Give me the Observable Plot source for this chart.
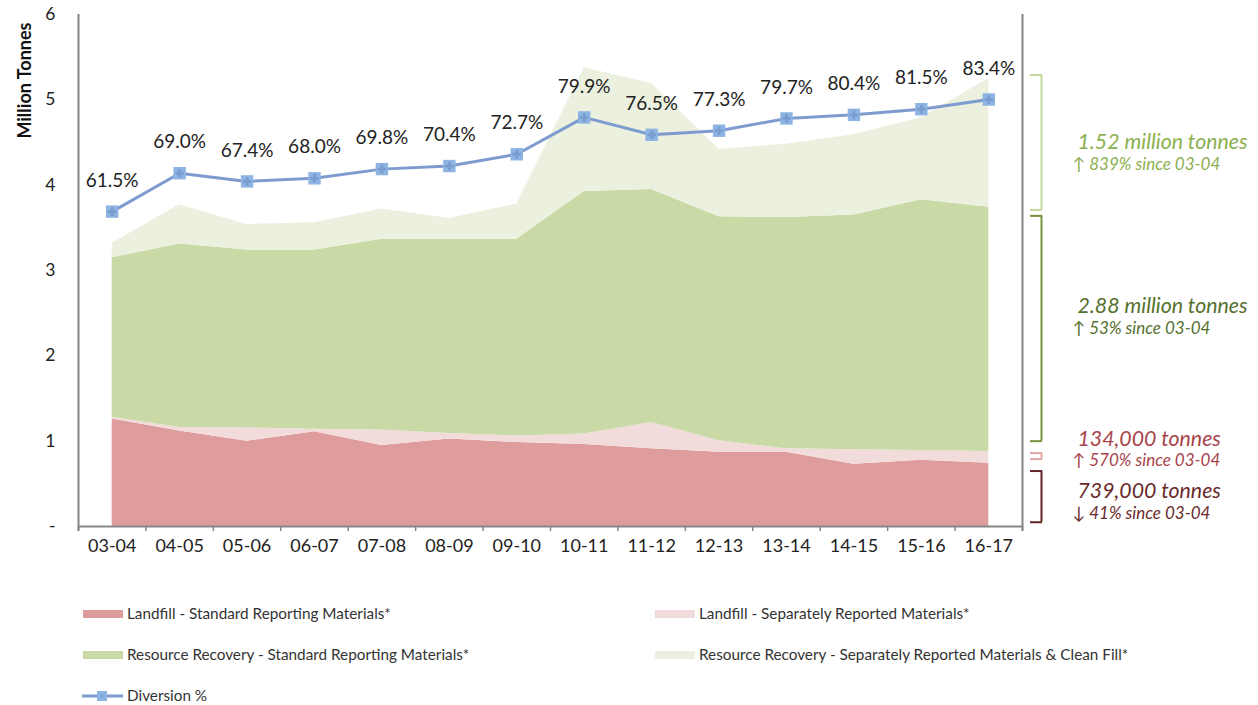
<!DOCTYPE html>
<html>
<head>
<meta charset="utf-8">
<script src="https://cdn.jsdelivr.net/npm/d3@7"></script>
<script src="https://cdn.jsdelivr.net/npm/@observablehq/plot@0.6"></script>
<style>
  html, body { margin: 0; padding: 0; background: #fff; }
  #wrap { position: relative; width: 1258px; height: 705px; font-family: Lato, "Open Sans", sans-serif; }
  #chart svg { display: block; }
  .lg { position: absolute; height: 20px; line-height: 20px; font-size: 15.3px; color: #333; white-space: nowrap; }
  .sw { position: absolute; width: 40px; height: 8px; }
</style>
</head>
<body>
<div id="wrap">
  <div id="chart"></div>
</div>
<script>
// ---- data (million tonnes) ----
const years = ["03-04","04-05","05-06","06-07","07-08","08-09","09-10","10-11","11-12","12-13","13-14","14-15","15-16","16-17"];
const landfillStandard = [1.26,1.12,1.00,1.11,0.95,1.025,0.985,0.96,0.91,0.87,0.87,0.73,0.775,0.74];
const landfillSeparate = [0.02,0.04,0.155,0.03,0.18,0.065,0.075,0.125,0.31,0.135,0.04,0.17,0.115,0.14];
const recoveryStandard = [1.87,2.15,2.085,2.10,2.235,2.275,2.305,2.84,2.73,2.625,2.71,2.75,2.94,2.86];
const recoverySeparate = [0.17,0.46,0.30,0.32,0.355,0.245,0.415,1.45,1.24,0.79,0.86,0.94,0.96,1.51];
const diversionPct = [61.5,69.0,67.4,68.0,69.8,70.4,72.7,79.9,76.5,77.3,79.7,80.4,81.5,83.4];
const yTicks = [0,1,2,3,4,5,6];

const seriesNames = [
  "Landfill - Standard Reporting Materials*",
  "Landfill - Separately Reported Materials*",
  "Resource Recovery - Standard Reporting Materials*",
  "Resource Recovery - Separately Reported Materials & Clean Fill*"
];
const seriesColors = ["#DE9D9C", "#F2DCDB", "#CADAA6", "#EBF1DE"];
const seriesValues = [landfillStandard, landfillSeparate, recoveryStandard, recoverySeparate];

// right-hand annotations for 16-17
const annoMain = ["1.52 million tonnes", "2.88 million tonnes", "134,000 tonnes", "739,000 tonnes"];
const annoSub = ["\u2191 839% since 03-04", "\u2191 53% since 03-04", "\u2191 570% since 03-04", "\u2193 41% since 03-04"];
const annoY = [4.37, 2.45, 0.90, 0.28];
const bracketTop = [5.29, 3.64, 0.86, 0.65];
const bracketBottom = [3.71, 1.00, 0.79, 0.05];
const annoText = ["#8CB050", "#56702E", "#A8434A", "#6A2A2A"];
const bracketColor = ["#C3D69B", "#77933C", "#E3A6A6", "#632523"];

// ---- build tables ----
const long = [];
seriesNames.forEach((s, k) => seriesValues[k].forEach((v, i) => long.push({i, series: s, value: v})));
const div = diversionPct.map((p, i) => ({i, p, y: p * 6 / 100}));
const annos = annoMain.map((m, k) => ({main: m, sub: annoSub[k], y: annoY[k], top: bracketTop[k], bot: bracketBottom[k], tc: annoText[k], bc: bracketColor[k]}));

const FONT = "Lato, 'Open Sans', sans-serif";
const axisColor = "#868686";
const W = 1258, H = 566;
const mL = 78, mR = 236, mT = 14, mB = 40;
const step = (W - mL - mR) / years.length;      // pixel width of one category
const px = p => p / step;                        // pixels -> x units

const plot = Plot.plot({
  width: W, height: H,
  marginLeft: mL, marginRight: mR, marginTop: mT, marginBottom: mB,
  style: {fontFamily: FONT, background: "white", overflow: "visible"},
  x: {type: "linear", domain: [-0.5, years.length - 0.5]},
  y: {domain: [0, 6]},
  color: {domain: seriesNames, range: seriesColors},
  marks: [
    Plot.areaY(long, {x: "i", y: "value", fill: "series", order: seriesNames}),
    // axes lines
    Plot.ruleX([-0.5, years.length - 0.5], {y1: 6, y2: 0, insetBottom: -5, stroke: axisColor, strokeWidth: 2}),
    Plot.ruleY([0], {stroke: axisColor, strokeWidth: 2}),
    Plot.axisX(d3.range(-0.5, years.length, 1), {tickSize: 5, tickFormat: () => "", stroke: axisColor, strokeWidth: 1.5, label: null}),
    Plot.axisX(d3.range(years.length), {tickSize: 0, tickPadding: 13, tickFormat: i => years[i], fontSize: 18, fill: "#222", label: null}),
    Plot.axisY(yTicks, {tickSize: 0, tickPadding: 23, tickFormat: d => d === 0 ? "-" : String(d), fontSize: 17.5, fill: "#222", label: null}),
    Plot.text(["Million Tonnes"], {frameAnchor: "top-left", rotate: -90, textAnchor: "end", dx: -60, dy: 8, fontWeight: "bold", fontSize: 18, fill: "#111"}),
    // diversion line
    Plot.line(div, {x: "i", y: "y", stroke: "#7E9BCF", strokeWidth: 3}),
    Plot.dot(div, {x: "i", y: "y", symbol: "square", r: 7, fill: "#8DB4E2", stroke: null}),
    Plot.dot(div, {x: "i", y: "y", symbol: "cross", r: 3.6, fill: "#7A9DD0", stroke: null}),
    Plot.text(div, {x: "i", y: "y", text: d => d.p.toFixed(1) + "%", dy: -31, fontSize: 19, fill: "#222"}),
    // brackets
    Plot.ruleX(annos, {x: years.length - 0.5 + px(19), y1: "top", y2: "bot", stroke: "bc", strokeWidth: 2}),
    Plot.ruleY(annos, {y: "top", x1: years.length - 0.5 + px(8), x2: years.length - 0.5 + px(20), stroke: "bc", strokeWidth: 2}),
    Plot.ruleY(annos, {y: "bot", x1: years.length - 0.5 + px(8), x2: years.length - 0.5 + px(20), stroke: "bc", strokeWidth: 2}),
    // annotation text
    Plot.text(annos, {x: years.length - 0.5, y: "y", text: "main", dx: 55, dy: -11, textAnchor: "start", fontSize: 21.3, fontStyle: "italic", fill: "tc"}),
    Plot.text(annos, {x: years.length - 0.5, y: "y", text: "sub", dx: 50, dy: 11, textAnchor: "start", fontSize: 17, fontStyle: "italic", fill: "tc"})
  ]
});
document.getElementById("chart").appendChild(plot);

// ---- legend (HTML, below the SVG) ----
const wrap = document.getElementById("wrap");
const legendItems = [
  {label: seriesNames[0], color: seriesColors[0], x: 83, y: 614},
  {label: seriesNames[1], color: seriesColors[1], x: 655, y: 614},
  {label: seriesNames[2], color: seriesColors[2], x: 83, y: 655},
  {label: seriesNames[3], color: seriesColors[3], x: 655, y: 655}
];
legendItems.forEach(it => {
  const sw = document.createElement("div");
  sw.className = "sw";
  sw.style.left = it.x + "px"; sw.style.top = (it.y - 4) + "px"; sw.style.background = it.color;
  wrap.appendChild(sw);
  const t = document.createElement("div");
  t.className = "lg";
  t.style.left = (it.x + 44) + "px"; t.style.top = (it.y - 11) + "px";
  t.textContent = it.label;
  wrap.appendChild(t);
});
const ls = document.createElementNS("http://www.w3.org/2000/svg", "svg");
ls.setAttribute("width", 44); ls.setAttribute("height", 16);
ls.style.position = "absolute"; ls.style.left = "81px"; ls.style.top = (696 - 8) + "px";
ls.innerHTML = '<line x1="1" x2="42" y1="8" y2="8" stroke="#7E9BCF" stroke-width="3"/>' +
  '<rect x="16" y="3" width="10" height="10" fill="#8DB4E2"/>' +
  '<path d="M19.5 8h3M21 6.5v3" stroke="#7A9DD0" stroke-width="1.5"/>';
wrap.appendChild(ls);
const dl = document.createElement("div");
dl.className = "lg"; dl.style.left = "127px"; dl.style.top = (696 - 11) + "px";
dl.textContent = "Diversion %";
wrap.appendChild(dl);
</script>
</body>
</html>
